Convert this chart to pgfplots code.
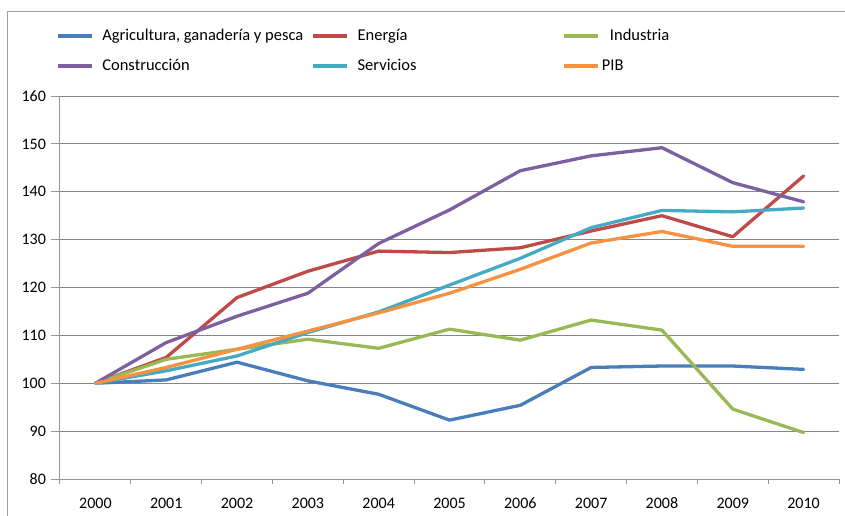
\documentclass[border=0pt]{standalone}
\usepackage{fontspec}
\setmainfont{Carlito}
\usepackage{pgfplots}
\usepackage{pgfplotstable}
\pgfplotsset{compat=1.18}
\definecolor{cAgr}{RGB}{74,126,187}
\definecolor{cEne}{RGB}{190,75,72}
\definecolor{cInd}{RGB}{152,185,84}
\definecolor{cCon}{RGB}{125,96,160}
\definecolor{cSer}{RGB}{70,170,197}
\definecolor{cPIB}{RGB}{246,146,64}
\definecolor{gridgray}{RGB}{134,134,134}
\definecolor{axisgray}{RGB}{150,150,150}
\definecolor{framegray}{RGB}{160,160,160}
\pgfplotstableread{
x  agr    ene    ind    con    ser    pib
0  100.0  100.0  100.0  100.0  100.0  100.0
1  100.7  105.4  105.0  108.5  102.6  103.3
2  104.4  117.9  107.1  114.0  105.7  107.1
3  100.5  123.4  109.2  118.8  110.6  110.9
4  97.7   127.6  107.3  129.2  114.9  114.7
5  92.3   127.3  111.3  136.2  120.5  118.8
6  95.4   128.3  109.0  144.4  126.1  123.8
7  103.3  131.8  113.2  147.5  132.5  129.3
8  103.6  135.0  111.1  149.2  136.1  131.7
9  103.6  130.6  94.6   141.9  135.8  128.6
10 102.9  143.3  89.7   137.9  136.6  128.6
}\datatable
\begin{document}
\begin{tikzpicture}
\useasboundingbox (-60pt,-36pt) rectangle (785pt,479pt);
\draw[color=framegray, line width=1pt] (-52pt,-40pt) -- (-52pt,467pt) -- (790pt,467pt);
\begin{axis}[
  at={(0pt,0pt)}, anchor=south west,
  scale only axis, width=779pt, height=383pt,
  xmin=-0.5, xmax=10.5, ymin=80, ymax=160,
  axis lines*=left,
  axis line style={color=axisgray, line width=1pt},
  xtick={0,1,2,3,4,5,6,7,8,9,10},
  xticklabels={2000,2001,2002,2003,2004,2005,2006,2007,2008,2009,2010},
  minor xtick={-0.5,0.5,1.5,2.5,3.5,4.5,5.5,6.5,7.5,8.5,9.5,10.5},
  ytick={80,90,100,110,120,130,140,150,160},
  ymajorgrids, grid style={color=gridgray, line width=1pt},
  tick align=outside, major tick length=9pt, minor tick length=4.5pt,
  tick style={color=axisgray, line width=1pt},
  every major x tick/.append style={draw=none},
  ticklabel style={font=\fontsize{16}{19}\selectfont},
  /pgf/number format/assume math mode=true,
  yticklabel style={/pgf/number format/1000 sep={}, xshift=-1.5pt},
  xticklabel style={anchor=base, yshift=-20.2pt},
  legend columns=3,
  legend cell align=left,
  legend image code/.code={\draw[#1, line cap=butt] (0pt,0pt) -- (34pt,0pt);},
  legend style={
    at={(axis description cs:-0.0051,1.1775)}, anchor=north west,
    draw=none, fill=none, inner sep=0pt, outer sep=0pt,
    row sep=14pt, column sep=0pt,
    font=\fontsize{16.5}{19}\selectfont,
    nodes={inner sep=0pt, text height=12pt, text depth=4pt},
    /tikz/every odd column/.append style={column sep=9pt},
  },
  every axis plot/.append style={line width=3.3pt, line join=round, line cap=round, no markers},
]
\addplot[cAgr] table[x=x, y=agr] {\datatable};
\addlegendentry{\makebox[209pt][l]{Agricultura, ganadería y pesca}}
\addplot[cEne] table[x=x, y=ene] {\datatable};
\addlegendentry{\makebox[205pt][l]{Energía}}
\addplot[cInd] table[x=x, y=ind] {\datatable};
\addlegendentry{\makebox[120pt][l]{\hspace*{1pt}Industria}}
\addplot[cCon] table[x=x, y=con] {\datatable};
\addlegendentry{\makebox[209pt][l]{Construcción}}
\addplot[cSer] table[x=x, y=ser] {\datatable};
\addlegendentry{\makebox[205pt][l]{Servicios}}
\addplot[cPIB] table[x=x, y=pib] {\datatable};
\addlegendentry{\makebox[120pt][l]{\hspace*{-7pt}PIB}}
\end{axis}
\end{tikzpicture}
\end{document}
